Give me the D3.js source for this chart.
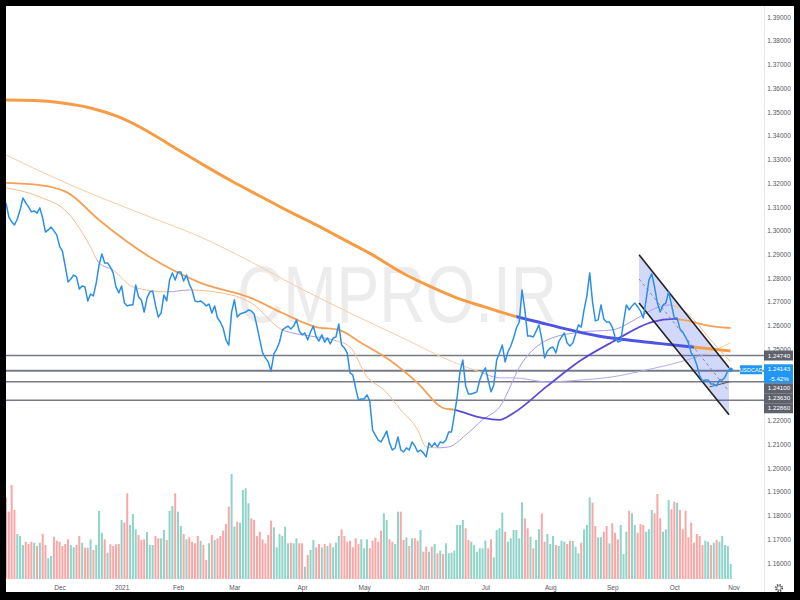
<!DOCTYPE html>
<html><head><meta charset="utf-8">
<script src="https://cdn.jsdelivr.net/npm/d3@7"></script>
<style>body{margin:0;background:#000;}svg{display:block}</style>
</head><body><svg id="c" width="800" height="600"></svg>
<script>
// ---------- DATA ----------
const monthLabels = ["Dec","2021","Feb","Mar","Apr","May","Jun","Jul","Aug","Sep","Oct","Nov"];
const monthIndex  = [19,41,61,81,105,127,148,170,193,215,237,258];
// 1.23 and 1.24 are hidden behind the price-label boxes
const priceTicks  = [1.16,1.17,1.18,1.19,1.20,1.21,1.22,1.25,1.26,1.27,1.28,1.29,1.30,1.31,1.32,1.33,1.34,1.35,1.36,1.37,1.38,1.39];

const closes = [
1.3117,1.3058,1.3037,1.3024,1.3049,1.3087,1.3138,1.3117,1.3100,1.3079,
1.3083,1.3074,1.3096,1.3053,1.2994,1.3003,1.3015,1.2999,1.2982,1.2935,
1.2914,1.2851,1.2784,1.2796,1.2813,1.2805,1.2754,1.2767,1.2763,1.2704,
1.2733,1.2725,1.2780,1.2855,1.2902,1.2864,1.2864,1.2847,1.2822,1.2763,
1.2738,1.2767,1.2695,1.2683,1.2687,1.2687,1.2771,1.2721,1.2708,1.2657,
1.2716,1.2742,1.2746,1.2687,1.2636,1.2653,1.2729,1.2704,1.2792,1.2822,
1.2792,1.2826,1.2826,1.2788,1.2813,1.2775,1.2750,1.2704,1.2700,1.2704,
1.2695,1.2683,1.2691,1.2653,1.2683,1.2632,1.2615,1.2590,1.2540,1.2518,
1.2657,1.2708,1.2636,1.2649,1.2653,1.2657,1.2666,1.2662,1.2649,1.2598,
1.2540,1.2485,1.2464,1.2447,1.2409,1.2481,1.2502,1.2531,1.2582,1.2590,
1.2598,1.2586,1.2598,1.2624,1.2577,1.2561,1.2569,1.2540,1.2573,1.2598,
1.2552,1.2535,1.2561,1.2531,1.2548,1.2523,1.2548,1.2552,1.2607,1.2518,
1.2506,1.2485,1.2401,1.2392,1.2337,1.2287,1.2291,1.2291,1.2308,1.2283,
1.2160,1.2139,1.2118,1.2110,1.2131,1.2156,1.2106,1.2076,1.2085,1.2131,
1.2076,1.2068,1.2085,1.2076,1.2110,1.2093,1.2068,1.2076,1.2064,1.2047,
1.2106,1.2089,1.2106,1.2089,1.2110,1.2106,1.2118,1.2152,1.2152,1.2224,
1.2299,1.2405,1.2455,1.2346,1.2312,1.2312,1.2316,1.2321,1.2371,1.2401,
1.2422,1.2371,1.2321,1.2350,1.2455,1.2485,1.2518,1.2447,1.2489,1.2514,
1.2548,1.2590,1.2615,1.2750,1.2666,1.2556,1.2556,1.2552,1.2577,1.2603,
1.2544,1.2464,1.2493,1.2506,1.2510,1.2485,1.2531,1.2552,1.2569,1.2527,
1.2514,1.2527,1.2565,1.2603,1.2594,1.2666,1.2725,1.2822,1.2700,1.2620,
1.2624,1.2687,1.2628,1.2615,1.2615,1.2594,1.2552,1.2531,1.2535,1.2615,
1.2687,1.2666,1.2683,1.2695,1.2679,1.2662,1.2632,1.2708,1.2792,1.2818,
1.2763,1.2695,1.2657,1.2687,1.2695,1.2742,1.2687,1.2632,1.2632,1.2586,
1.2573,1.2552,1.2527,1.2485,1.2468,1.2434,1.2388,1.2367,1.2371,1.2371,
1.2354,1.2354,1.2346,1.2371,1.2371,1.2384,1.2409,1.2414];

const volumes = [
81.7,67.3,94,69,45,43,34,37.3,35,37.3,
36.3,33,36.3,45,34,20.7,23,42.3,38.3,37.3,
33,35,39.7,34,31.7,34,43,36.3,31.3,31.3,
39.7,29,34,68,46.3,39.7,26.3,34.7,33,34.7,
35,59,56.3,85.7,54,65,49.7,44,39,39.7,
47,34,34,43,40.7,40.7,49,39,68,73,
85.7,67.3,53,45,39.7,41.7,37.3,35.7,43,38.3,
34,19,35.7,44,39,40.7,43,48.3,55,72.3,
105,52.3,57.3,56.3,89,90.7,75.7,60.7,59,43,
47.3,39.7,35.7,44,58.3,51.7,31.7,45,43,52.3,
35.7,36.3,35.7,40.7,35.7,35.7,12.3,24,29,39,
31.7,35,31.7,35,33,35.7,31.7,36.3,43,49.7,
43,37.3,38.3,31.7,40.7,35,39.7,30.7,39.7,30.7,
38.3,41.3,37.3,48.3,65.7,59,39.7,37.3,35,67.3,
67.3,39,41.7,33,40.7,40.7,38.3,49,27.3,32.3,
27.3,32.3,35,25.7,28.3,25,35.7,25.7,26.3,28.3,
54,54,59,50.7,39,37.3,34,27.3,30.7,30.7,
38.3,30.7,39.7,21.7,49,50.7,66.3,47.3,37.3,40.7,
49,49,40.7,76.7,60.7,50.7,42.3,30.7,39,49.7,
65.7,37.3,45,35,43,34,33,38.3,37.3,35,
38.3,38,32.3,25.7,36.3,49.7,54,81.7,76.3,53,
41.7,41.7,47.3,53,35.7,55.7,46.3,39.7,54,25,
47.3,68.3,65.7,54,46.3,55,54,47.3,49.7,69,
65.7,85,60.7,47.3,49.7,79,69.7,77.3,76.3,69,
49.7,68.3,41.7,56.3,36.3,45,43,34,38.3,37.3,
34,36.3,39,37.3,43,34,33,15];

// moving averages: [bar index, value]
const ma200 = [[0,1.3550],[10,1.3548],[20,1.3538],[30,1.3517],[40,1.3479],[50,1.3420],[60,1.3348],[70,1.3277],[80,1.3209],[90,1.3146],[100,1.3083],[110,1.3024],[120,1.2961],[130,1.2898],[140,1.2826],[150,1.2767],[160,1.2716],[170,1.2678],[180,1.2641],[190,1.2611],[200,1.2582],[210,1.2556],[220,1.2540],[230,1.2527],[240,1.2514],[250,1.2502],[257,1.2493]];
const ma100 = [[0,1.3319],[19,1.3213],[33,1.3142],[51,1.3058],[69,1.2973],[87,1.2868],[104,1.2759],[122,1.2653],[140,1.2552],[157,1.2455],[168,1.2405],[175,1.2380],[180,1.2380],[192,1.2363],[204,1.2371],[215,1.2384],[227,1.2413],[239,1.2447],[249,1.2485],[257,1.2528]];
const ma50 = [[0,1.3201],[12,1.3192],[22,1.3159],[33,1.3045],[51,1.2889],[69,1.2780],[87,1.2716],[98,1.2653],[110,1.2594],[118,1.2582],[126,1.2527],[136,1.2455],[146,1.2358],[155,1.2253],[159,1.2245],[169,1.2211],[175,1.2203],[180,1.2232],[192,1.2346],[204,1.2455],[215,1.2531],[229,1.2615],[237,1.2628],[240,1.2624],[250,1.2598],[257,1.2590]];
const ma20 = [[0,1.3180],[12,1.3142],[22,1.3074],[30,1.2931],[33,1.2864],[38,1.2834],[45,1.2763],[57,1.2742],[65,1.2750],[80,1.2729],[87,1.2695],[98,1.2582],[108,1.2556],[116,1.2540],[122,1.2510],[128,1.2384],[134,1.2329],[140,1.2245],[146,1.2160],[149,1.2089],[153,1.2085],[157,1.2089],[163,1.2139],[169,1.2203],[175,1.2257],[183,1.2443],[192,1.2540],[204,1.2573],[215,1.2582],[224,1.2632],[229,1.2666],[235,1.2687],[238,1.2679],[244,1.2624],[249,1.2552],[257,1.2447]];
// index ranges where each average is drawn in its "bullish" colour
const ma200Bull = [[181,244]];
const ma100Bull = [[169,248]];
const ma50Bull  = [[159,238]];
const ma20Bull  = [[32,38],[57,65],[98,117],[153,236]];

const levels = [1.2474, 1.2410, 1.2363, 1.2286];
const levelLabels = ["1.24740","1.24100","1.23630","1.22860"];
const symbol = "USDCAD", lastLabel = "1.24143", changeLabel = "-5.42%";
const channelTop = [[224.5,1.2898],[256.4,1.2422]];
const channelBottom = [[224.5,1.2695],[256.4,1.2224]];
const miniTrend = [[249.5,1.2342],[256.6,1.2363]];

// ---------- DRAW ----------
const svg = d3.select("#c");
const L=6, T=6, R=794, B=592, PR=764, PB=579;
const FONT = "Liberation Sans, Arial, sans-serif";
const x = d3.scaleLinear().domain([0, closes.length-1]).range([6, 730.7]);
const y = d3.scaleLinear().domain([1.16, 1.39]).range([563, 17]);
const yv = d3.scaleLinear().domain([0, 110]).range([PB, PB-110]);

svg.append("rect").attr("width",800).attr("height",600).attr("fill","#000");
svg.append("rect").attr("x",L).attr("y",T).attr("width",R-L).attr("height",B-T).attr("fill","#fff");

const defs = svg.append("defs");
defs.append("clipPath").attr("id","plot").append("rect").attr("x",L).attr("y",T).attr("width",PR-L).attr("height",PB-T);
const plot = svg.append("g").attr("clip-path","url(#plot)");

// watermark
plot.append("text").attr("x",237).attr("y",322).attr("textLength",320).attr("lengthAdjust","spacingAndGlyphs")
  .attr("font-family",FONT).attr("font-size",80).attr("fill","#ececec").text("CMPRO.IR");

// volume
plot.selectAll("rect.vol").data(volumes).join("rect").attr("class","vol")
  .attr("x",(d,i)=>x(i)-1).attr("width",2)
  .attr("y",d=>yv(d)).attr("height",d=>PB-yv(d))
  .attr("fill",(d,i)=> (i>0 && closes[i]>=closes[i-1]) ? "#8fd3c9" : "#f7a8a6");

// horizontal levels
plot.selectAll("line.lvl").data(levels).join("line").attr("class","lvl")
  .attr("x1",L).attr("x2",PR).attr("y1",d=>y(d)).attr("y2",d=>y(d))
  .attr("stroke","#787b86").attr("stroke-width",(d,i)=> i===1?2:1.5);

// channel fill
const chPoly = [channelTop[0],channelTop[1],channelBottom[1],channelBottom[0]];
plot.append("path").attr("d","M"+chPoly.map(p=>[x(p[0]),y(p[1])].join(",")).join("L")+"Z")
  .attr("fill","rgba(70,100,230,0.25)");

// moving averages
function complement(r){const out=[];let s=0;r.forEach(([a,b])=>{if(a>s)out.push([s,a]);s=b;});if(s<closes.length-1)out.push([s,closes.length-1]);return out;}
let clipId=0;
function drawMA(data, bull, bullColor, bearColor, w){
  const line = d3.line().x(d=>x(d[0])).y(d=>y(d[1])).curve(d3.curveMonotoneX);
  [[complement(bull),bearColor],[bull,bullColor]].forEach(([ranges,col])=>{
    const id="ma"+(clipId++);
    const cp=defs.append("clipPath").attr("id",id);
    ranges.forEach(([a,b])=>cp.append("rect").attr("x",x(a)).attr("y",0).attr("width",x(b)-x(a)).attr("height",600));
    plot.append("path").attr("d",line(data)).attr("fill","none").attr("stroke",col).attr("stroke-width",w)
      .attr("clip-path","url(#"+id+")").attr("stroke-linejoin","round");
  });
}
drawMA(ma100, ma100Bull, "#b3a9ee", "#f9cba6", 1);
drawMA(ma20,  ma20Bull,  "#a99be6", "#f6bc8e", 1);
drawMA(ma50,  ma50Bull,  "#5a4bd6", "#f5a057", 1.8);
drawMA(ma200, ma200Bull, "#4d55e0", "#f59c45", 3);

// channel lines
const cl = d3.line().x(d=>x(d[0])).y(d=>y(d[1]));
plot.append("path").attr("d",cl(channelTop)).attr("stroke","#222").attr("stroke-width",1.6).attr("fill","none");
plot.append("path").attr("d",cl(channelBottom)).attr("stroke","#222").attr("stroke-width",1.6).attr("fill","none");
const mid=[[channelTop[0][0],(channelTop[0][1]+channelBottom[0][1])/2],[channelTop[1][0],(channelTop[1][1]+channelBottom[1][1])/2]];
plot.append("path").attr("d",cl(mid)).attr("stroke","#8a8d96").attr("stroke-width",1).attr("stroke-dasharray","3,3").attr("fill","none");
plot.append("path").attr("d",cl(miniTrend)).attr("stroke","#555").attr("stroke-width",1).attr("fill","none");

// price line
const pl = d3.line().x((d,i)=>x(i)).y(d=>y(d));
plot.append("path").attr("d",pl(closes)).attr("fill","none").attr("stroke","#2b8fe8").attr("stroke-width",1.5).attr("stroke-linejoin","round");
const li = closes.length-1;
plot.append("circle").attr("cx",x(li)).attr("cy",y(closes[li])).attr("r",2.2).attr("fill","#2b8fe8");

// separator
svg.append("line").attr("x1",PR+0.5).attr("x2",PR+0.5).attr("y1",T).attr("y2",B).attr("stroke","#e6e8ee");

// price axis
const ya = svg.append("g").attr("transform",`translate(${PR},0)`)
  .call(d3.axisRight(y).tickValues(priceTicks).tickSize(0).tickPadding(0).tickFormat(d3.format(".5f")));
ya.select(".domain").remove();
ya.selectAll("text").attr("x",15).attr("text-anchor","middle").attr("font-family",FONT)
  .attr("font-size",6.5).attr("fill","#555862");

// time axis
const xa = svg.append("g").attr("transform",`translate(0,${PB})`)
  .call(d3.axisBottom(x).tickValues(monthIndex).tickSize(0).tickPadding(6).tickFormat((d,i)=>monthLabels[i]));
xa.select(".domain").remove();
xa.selectAll("text").attr("font-family",FONT).attr("font-size",6.5).attr("fill","#555862");

// right-side labels with stacking
const lastY = y(closes[li]);
const boxes = [];
boxes.push({top:y(levels[0])-5, h:10, kind:"gray", text:[levelLabels[0]]});
boxes.push({top:lastY-5.5, h:19, kind:"blue", text:[lastLabel,changeLabel]});
for(let k=1;k<levels.length;k++) boxes.push({top:y(levels[k])-5, h:10, kind:"gray", text:[levelLabels[k]]});
let prevBottom=-1e9;
boxes.forEach(b=>{ if(b.top<prevBottom) b.top=prevBottom; prevBottom=b.top+b.h; });
const lab = svg.append("g");
boxes.forEach(b=>{
  lab.append("rect").attr("x",PR).attr("y",b.top).attr("width",29).attr("height",b.h)
    .attr("fill", b.kind==="blue"?"#2196f3":"#5f626d");
  b.text.forEach((t,j)=>lab.append("text").attr("x",PR+15).attr("y",b.top+7.2+j*9.2).attr("text-anchor","middle")
    .attr("font-family",FONT).attr("font-size",6.2).attr("fill","#fff").text(t));
});
lab.append("rect").attr("x",740).attr("y",lastY-4.5).attr("width",22).attr("height",9).attr("fill","#2196f3");
lab.append("text").attr("x",751).attr("y",lastY+2.2).attr("text-anchor","middle").attr("font-family",FONT)
  .attr("font-size",5.5).attr("fill","#fff").text(symbol);

// gear icon
const gear = svg.append("g").attr("transform","translate(779,588)");
gear.append("circle").attr("r",3.3).attr("fill","none").attr("stroke","#555").attr("stroke-width",1.6).attr("stroke-dasharray","1.4,1.2");
gear.append("circle").attr("r",2.2).attr("fill","#fff").attr("stroke","#555").attr("stroke-width",0.8);
</script></body></html>
